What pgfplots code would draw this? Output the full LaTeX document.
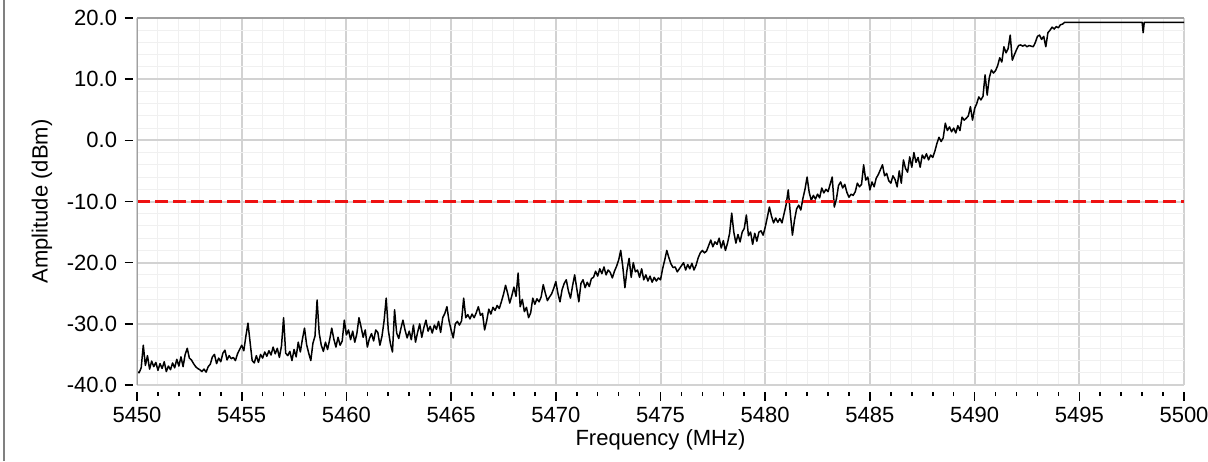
\documentclass[border=0pt]{standalone}
\usepackage{pgfplots}
\pgfplotsset{compat=1.18}
\usepackage{fontspec}
\setmainfont{Liberation Sans}
\definecolor{majgrid}{HTML}{D2D2D2}
\definecolor{mingrid}{HTML}{F0F0F0}
\definecolor{axgray}{HTML}{A0A0A0}
\definecolor{redline}{HTML}{EE1111}
\begin{document}
\begin{tikzpicture}
\useasboundingbox (0,0) rectangle (604pt,230.5pt);
\draw[color={rgb,255:red,128;green,128;blue,128}, line width=1pt] (2pt,0) -- (2pt,230.5pt);
\begin{axis}[
  at={(68.5pt,38pt)}, anchor=south west,
  width=523.5pt, height=183.5pt, scale only axis,
  xmin=5450, xmax=5500, ymin=-40, ymax=20,
  axis line style={draw=none},
  font=\fontsize{11}{13}\selectfont,
  xtick={5450,5455,5460,5465,5470,5475,5480,5485,5490,5495,5500},
  xticklabels={5450,5455,5460,5465,5470,5475,5480,5485,5490,5495,5500},
  minor xtick={5451,5452,5453,5454,5456,5457,5458,5459,5461,5462,5463,5464,5466,5467,5468,5469,5471,5472,5473,5474,5476,5477,5478,5479,5481,5482,5483,5484,5486,5487,5488,5489,5491,5492,5493,5494,5496,5497,5498,5499},
  ytick={-40,-30,-20,-10,0,10,20},
  yticklabels={-40.0,-30.0,-20.0,-10.0,0.0,10.0,20.0},
  extra y ticks={-38,-36,-34,-32,-28,-26,-24,-22,-18,-16,-14,-12,-8,-6,-4,-2,2,4,6,8,12,14,16,18},
  extra y tick labels={},
  extra y tick style={grid=major, major grid style={color=mingrid, line width=0.5pt}, major tick length=0pt, ytick style={draw=none}},
  xmajorgrids, xminorgrids, ymajorgrids,
  major grid style={color=majgrid, line width=1pt},
  minor grid style={color=mingrid, line width=0.5pt},
  tick align=outside,
  xtick pos=bottom, ytick pos=left,
  major tick length=4.25pt, minor tick length=2pt,
  xtick style={black, line width=0.8pt, yshift=-3.5pt},
  ytick style={black, line width=0.8pt, xshift=-2pt},
  xticklabel shift=3.25pt,
  yticklabel shift=2.2pt,
  every axis y label/.style={at={(axis description cs:0,0.5)}, xshift=-47.5pt, rotate=90, anchor=center},
  every axis x label/.style={at={(axis description cs:0.5,0)}, yshift=-27.5pt, anchor=center},
  xlabel={Frequency (MHz)},
  ylabel={Amplitude (dBm)},
]
\addplot[black, line width=0.75pt, line join=round, mark=none] table {
x y
5450.0 -37.8
5450.1 -38.0
5450.2 -37.2
5450.3 -33.5
5450.4 -36.8
5450.5 -35.2
5450.6 -37.4
5450.7 -36.1
5450.8 -37.0
5450.9 -36.3
5451.0 -37.6
5451.1 -36.5
5451.2 -37.3
5451.3 -36.2
5451.4 -37.8
5451.5 -36.9
5451.6 -37.5
5451.7 -36.4
5451.8 -37.2
5451.9 -35.8
5452.0 -36.9
5452.1 -35.4
5452.2 -37.0
5452.3 -35.0
5452.4 -34.0
5452.5 -35.6
5452.6 -35.9
5452.7 -36.5
5452.8 -37.0
5452.9 -37.3
5453.0 -37.5
5453.1 -37.8
5453.2 -37.4
5453.3 -37.9
5453.4 -37.0
5453.5 -36.6
5453.6 -35.4
5453.7 -35.0
5453.8 -36.5
5453.9 -35.6
5454.0 -36.2
5454.1 -34.8
5454.2 -34.3
5454.3 -35.9
5454.4 -35.2
5454.5 -35.7
5454.6 -35.5
5454.7 -36.0
5454.8 -34.9
5454.9 -34.2
5455.0 -33.5
5455.1 -34.4
5455.2 -32.0
5455.3 -29.9
5455.4 -33.0
5455.5 -36.0
5455.6 -36.4
5455.7 -35.2
5455.8 -36.3
5455.9 -35.0
5456.0 -35.6
5456.1 -34.6
5456.2 -35.3
5456.3 -34.4
5456.4 -35.1
5456.5 -33.8
5456.6 -34.9
5456.7 -34.0
5456.8 -35.5
5456.9 -33.6
5457.0 -29.0
5457.1 -34.8
5457.2 -35.2
5457.3 -34.5
5457.4 -36.0
5457.5 -34.2
5457.6 -35.4
5457.7 -33.0
5457.8 -34.6
5457.9 -32.5
5458.0 -30.7
5458.1 -33.4
5458.2 -34.8
5458.3 -36.0
5458.4 -33.2
5458.5 -32.0
5458.6 -26.1
5458.7 -31.5
5458.8 -33.5
5458.9 -34.5
5459.0 -33.0
5459.1 -34.2
5459.2 -32.6
5459.3 -30.7
5459.4 -32.5
5459.5 -33.8
5459.6 -32.2
5459.7 -33.5
5459.8 -32.8
5459.9 -29.4
5460.0 -31.8
5460.1 -31.0
5460.2 -32.6
5460.3 -31.2
5460.4 -33.0
5460.5 -31.6
5460.6 -29.0
5460.7 -30.5
5460.8 -32.2
5460.9 -31.0
5461.0 -33.8
5461.1 -32.4
5461.2 -31.6
5461.3 -32.8
5461.4 -31.0
5461.5 -31.4
5461.6 -33.5
5461.7 -32.0
5461.8 -29.5
5461.9 -25.8
5462.0 -31.0
5462.1 -33.2
5462.2 -34.6
5462.3 -27.7
5462.4 -31.5
5462.5 -32.4
5462.6 -30.8
5462.7 -29.4
5462.8 -31.0
5462.9 -32.3
5463.0 -31.2
5463.1 -32.6
5463.2 -30.2
5463.3 -33.0
5463.4 -31.4
5463.5 -30.0
5463.6 -32.2
5463.7 -30.6
5463.8 -29.4
5463.9 -31.2
5464.0 -30.4
5464.1 -31.5
5464.2 -30.2
5464.3 -30.9
5464.4 -29.6
5464.5 -31.4
5464.6 -29.0
5464.7 -28.3
5464.8 -27.2
5464.9 -29.5
5465.0 -31.0
5465.1 -32.3
5465.2 -30.0
5465.3 -29.6
5465.4 -30.2
5465.5 -29.5
5465.6 -25.8
5465.7 -29.0
5465.8 -28.5
5465.9 -29.2
5466.0 -28.4
5466.1 -29.0
5466.2 -28.2
5466.3 -27.2
5466.4 -28.6
5466.5 -28.3
5466.6 -31.0
5466.7 -29.5
5466.8 -27.6
5466.9 -28.4
5467.0 -27.3
5467.1 -27.8
5467.2 -27.0
5467.3 -27.5
5467.4 -26.4
5467.5 -25.2
5467.6 -23.7
5467.7 -25.0
5467.8 -26.6
5467.9 -25.4
5468.0 -24.0
5468.1 -25.5
5468.2 -21.7
5468.3 -27.2
5468.4 -26.0
5468.5 -28.0
5468.6 -27.3
5468.7 -29.0
5468.8 -28.2
5468.9 -25.8
5469.0 -26.8
5469.1 -25.9
5469.2 -26.4
5469.3 -25.6
5469.4 -23.6
5469.5 -25.0
5469.6 -26.2
5469.7 -25.6
5469.8 -25.1
5469.9 -24.2
5470.0 -23.1
5470.1 -25.0
5470.2 -26.4
5470.3 -24.4
5470.4 -23.4
5470.5 -22.8
5470.6 -24.6
5470.7 -25.8
5470.8 -23.8
5470.9 -22.0
5471.0 -24.2
5471.1 -26.4
5471.2 -23.4
5471.3 -22.8
5471.4 -24.1
5471.5 -23.2
5471.6 -23.9
5471.7 -22.6
5471.8 -22.4
5471.9 -21.4
5472.0 -22.2
5472.1 -21.0
5472.2 -21.8
5472.3 -20.7
5472.4 -22.0
5472.5 -21.2
5472.6 -21.6
5472.7 -22.5
5472.8 -21.4
5472.9 -20.6
5473.0 -19.6
5473.1 -18.0
5473.2 -20.7
5473.3 -24.1
5473.4 -21.2
5473.5 -19.3
5473.6 -22.4
5473.7 -20.0
5473.8 -21.5
5473.9 -21.2
5474.0 -22.4
5474.1 -21.0
5474.2 -22.8
5474.3 -22.0
5474.4 -23.0
5474.5 -22.2
5474.6 -23.2
5474.7 -22.4
5474.8 -23.0
5474.9 -22.5
5475.0 -22.8
5475.1 -21.0
5475.2 -19.6
5475.3 -18.0
5475.4 -19.2
5475.5 -20.2
5475.6 -20.8
5475.7 -20.7
5475.8 -21.5
5475.9 -21.0
5476.0 -20.5
5476.1 -20.0
5476.2 -21.2
5476.3 -20.3
5476.4 -21.0
5476.5 -20.1
5476.6 -21.2
5476.7 -20.4
5476.8 -19.2
5476.9 -18.4
5477.0 -18.0
5477.1 -18.4
5477.2 -18.1
5477.3 -17.2
5477.4 -16.3
5477.5 -17.4
5477.6 -16.6
5477.7 -17.0
5477.8 -16.0
5477.9 -17.6
5478.0 -16.4
5478.1 -18.0
5478.2 -16.8
5478.3 -15.2
5478.4 -11.9
5478.5 -15.0
5478.6 -16.8
5478.7 -15.4
5478.8 -16.6
5478.9 -15.0
5479.0 -14.4
5479.1 -12.2
5479.2 -15.6
5479.3 -15.0
5479.4 -17.0
5479.5 -15.2
5479.6 -16.5
5479.7 -15.0
5479.8 -14.8
5479.9 -15.5
5480.0 -14.2
5480.1 -12.6
5480.2 -10.9
5480.3 -12.4
5480.4 -13.5
5480.5 -12.7
5480.6 -13.4
5480.7 -12.8
5480.8 -13.5
5480.9 -12.0
5481.0 -10.5
5481.1 -8.1
5481.2 -12.0
5481.3 -15.5
5481.4 -13.0
5481.5 -11.2
5481.6 -10.6
5481.7 -11.4
5481.8 -9.5
5481.9 -8.0
5482.0 -6.0
5482.1 -8.5
5482.2 -9.8
5482.3 -9.0
5482.4 -9.6
5482.5 -8.8
5482.6 -9.4
5482.7 -7.8
5482.8 -8.6
5482.9 -8.0
5483.0 -8.4
5483.1 -7.2
5483.2 -6.0
5483.3 -10.9
5483.4 -9.6
5483.5 -7.4
5483.6 -6.8
5483.7 -7.8
5483.8 -7.2
5483.9 -8.5
5484.0 -9.3
5484.1 -8.8
5484.2 -9.0
5484.3 -8.4
5484.4 -7.0
5484.5 -7.6
5484.6 -7.2
5484.7 -4.0
5484.8 -6.5
5484.9 -6.0
5485.0 -8.1
5485.1 -6.8
5485.2 -7.6
5485.3 -6.2
5485.4 -5.6
5485.5 -4.8
5485.6 -4.0
5485.7 -5.8
5485.8 -5.4
5485.9 -6.6
5486.0 -7.0
5486.1 -5.8
5486.2 -6.4
5486.3 -7.6
5486.4 -5.0
5486.5 -7.0
5486.6 -3.2
5486.7 -4.6
5486.8 -5.2
5486.9 -2.7
5487.0 -4.4
5487.1 -2.0
5487.2 -3.6
5487.3 -2.8
5487.4 -4.4
5487.5 -2.4
5487.6 -3.0
5487.7 -2.2
5487.8 -3.2
5487.9 -2.4
5488.0 -2.8
5488.1 -1.8
5488.2 -0.5
5488.3 0.5
5488.4 -0.2
5488.5 0.4
5488.6 2.8
5488.7 1.6
5488.8 2.2
5488.9 1.4
5489.0 2.0
5489.1 1.2
5489.2 2.4
5489.3 1.6
5489.4 3.8
5489.5 3.3
5489.6 3.6
5489.7 4.0
5489.8 5.5
5489.9 3.3
5490.0 5.2
5490.1 6.0
5490.2 7.1
5490.3 6.6
5490.4 7.2
5490.5 10.7
5490.6 7.4
5490.7 10.2
5490.8 11.5
5490.9 11.0
5491.0 11.4
5491.1 12.2
5491.2 13.5
5491.3 12.8
5491.4 15.3
5491.5 14.3
5491.6 15.0
5491.7 17.2
5491.8 13.1
5491.9 14.0
5492.0 14.8
5492.1 15.5
5492.2 15.6
5492.3 15.4
5492.4 15.6
5492.5 15.3
5492.6 15.5
5492.7 15.4
5492.8 15.3
5492.9 16.0
5493.0 17.0
5493.1 17.2
5493.2 16.5
5493.3 17.0
5493.4 15.3
5493.5 17.6
5493.6 18.0
5493.7 18.5
5493.8 18.2
5493.9 18.6
5494.0 18.4
5494.1 18.9
5494.2 19.0
5494.3 19.3
5498.0 19.3
5498.05 17.6
5498.1 19.3
5500.0 19.3
};
\addplot[redline, line width=1.6pt, dash pattern=on 6.5pt off 2.5pt, mark=none] coordinates {(5450,-10) (5500,-10)};
\draw[axgray, line width=1pt] (rel axis cs:0,0) -- (rel axis cs:0,1) -- (rel axis cs:1,1);
\end{axis}
\end{tikzpicture}
\end{document}
